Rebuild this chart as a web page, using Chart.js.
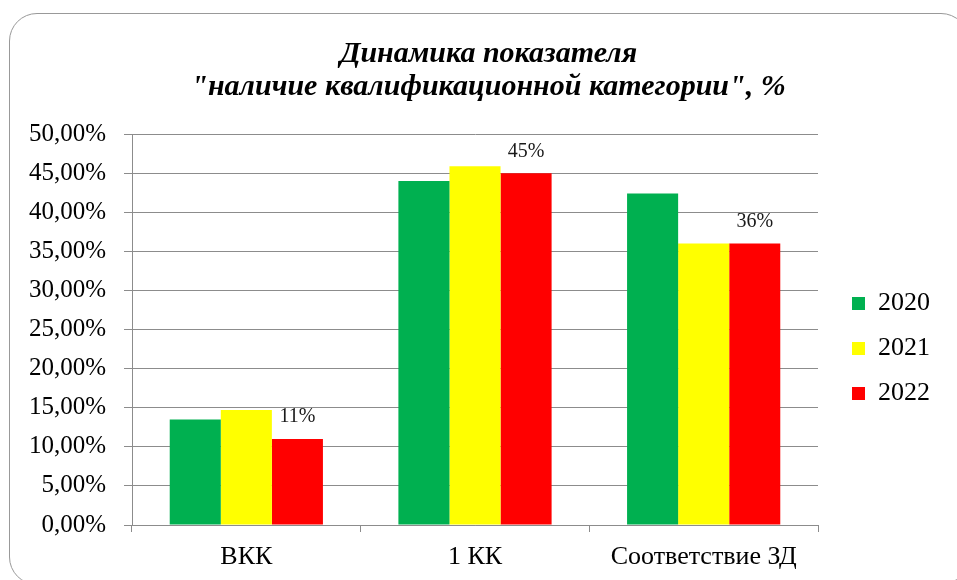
<!DOCTYPE html>
<html>
<head>
<meta charset="utf-8">
<script src="https://cdn.jsdelivr.net/npm/chart.js@4.4.1/dist/chart.umd.min.js"></script>
<style>
    html, body { margin: 0; padding: 0; background: #fff; }
    #wrap { position: relative; width: 957px; height: 580px; overflow: hidden; }
    #frame {
        position: absolute; left: 9px; top: 13px; width: 960px; height: 572px;
        border: 1px solid #999; border-radius: 28px; box-sizing: border-box;
    }
    #chart { position: absolute; left: 0; top: 0; }
</style>
</head>
<body>
<div id="wrap">
    <div id="frame"></div>
    <canvas id="chart" width="957" height="580"></canvas>
</div>
<script>
const categories = ['ВКК', '1 КК', 'Соответствие ЗД'];
const years = ['2020', '2021', '2022'];
const values2020 = [13.5, 44.0, 42.4];
const values2021 = [14.7, 45.9, 36.0];
const values2022 = [11.0, 45.0, 36.0];
const yTicks = [0, 5, 10, 15, 20, 25, 30, 35, 40, 45, 50];

const serif = '"Liberation Serif", "Times New Roman", serif';
const gridColor = '#8c8c8c';

// labels only over the 2022 bars, like the original
const barLabels = {
    id: 'barLabels',
    afterDatasetsDraw(chart) {
        const ctx = chart.ctx;
        const meta = chart.getDatasetMeta(2);
        ctx.save();
        ctx.font = '20px ' + serif;
        ctx.fillStyle = '#1a1a1a';
        ctx.textAlign = 'center';
        ctx.textBaseline = 'middle';
        meta.data.forEach(function (bar, i) {
            ctx.fillText(Math.round(values2022[i]) + '%', bar.x, bar.y - 22);
        });
        ctx.restore();
    }
};

// nudge the legend right/down and the title right
const nudge = {
    id: 'nudge',
    afterLayout(chart) {
        const lg = chart.legend;
        lg.left += 15; lg.right += 15;
        lg.top += 19; lg.bottom += 19;
        const tb = chart.titleBlock;
        tb.left += 14; tb.right += 14;
    }
};

new Chart(document.getElementById('chart'), {
    type: 'bar',
    data: {
        labels: categories,
        datasets: [
            { label: years[0], data: values2020, backgroundColor: '#00B050' },
            { label: years[1], data: values2021, backgroundColor: '#FFFF00' },
            { label: years[2], data: values2022, backgroundColor: '#FF0000' }
        ]
    },
    options: {
        responsive: false,
        animation: false,
        layout: { padding: { left: 24, right: 32, top: 0, bottom: 9 } },
        datasets: { bar: { categoryPercentage: 0.67, barPercentage: 1.0, borderWidth: 0 } },
        plugins: {
            tooltip: { enabled: false },
            title: {
                display: true,
                text: ['Динамика показателя', '"наличие квалификационной категории", %'],
                color: '#000',
                font: { family: serif, size: 30, weight: 'bold', style: 'italic', lineHeight: 1.12 },
                padding: { top: 37, bottom: 30 }
            },
            legend: {
                position: 'right',
                fullSize: false,
                labels: {
                    boxWidth: 13,
                    boxHeight: 13,
                    padding: 19,
                    color: '#000',
                    font: { family: serif, size: 26 }
                }
            }
        },
        scales: {
            x: {
                afterFit(axis) { axis.height = 46; },
                grid: { drawOnChartArea: false, drawTicks: true, tickLength: 7, color: gridColor },
                border: { color: gridColor },
                ticks: { color: '#000', padding: 10, font: { family: serif, size: 26 } }
            },
            y: {
                min: 0,
                max: 50,
                afterFit(axis) { axis.width = 108; },
                afterBuildTicks(axis) { axis.ticks = yTicks.map(v => ({ value: v })); },
                grid: { color: gridColor, tickLength: 8 },
                border: { color: gridColor },
                ticks: {
                    color: '#000',
                    padding: 18,
                    font: { family: serif, size: 25 },
                    callback: v => v.toFixed(2).replace('.', ',') + '%'
                }
            }
        }
    },
    plugins: [barLabels, nudge]
});
</script>
</body>
</html>
